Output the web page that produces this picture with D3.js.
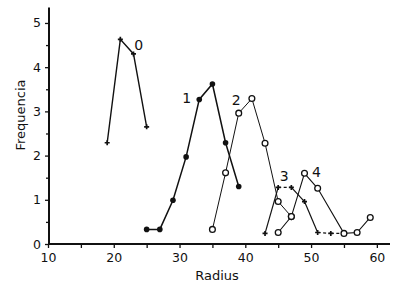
<!DOCTYPE html>
<html>
<head>
<meta charset="utf-8">
<script src="https://cdn.jsdelivr.net/npm/d3@7"></script>
<style>
  body { margin: 0; background: #fff; }
  svg { display: block; }
  text { font-family: "DejaVu Sans", sans-serif; fill: #111; }
</style>
</head>
<body>
<div id="chart"></div>
<script>
// radius classes (x) and frequencies (y) for each curve
const radius0 = [19, 21, 23, 25];
const freq0 = [2.29, 4.63, 4.30, 2.65];

const radius1 = [25, 27, 29, 31, 33, 35, 37, 39];
const freq1 = [0.33, 0.33, 0.99, 1.97, 3.27, 3.62, 2.29, 1.30];

const radius2 = [35, 37, 39, 41, 43, 45, 47];
const freq2 = [0.33, 1.61, 2.96, 3.29, 2.28, 0.96, 0.62];

const radius3 = [43, 45, 47, 49, 51, 53, 55];
const freq3 = [0.24, 1.28, 1.28, 0.96, 0.26, 0.24, 0.24];
// which segments of curve 3 are dashed
const dashed3 = [false, true, false, false, true, true];

const radius4 = [45, 47, 49, 51, 55, 57, 59];
const freq4 = [0.26, 0.62, 1.60, 1.26, 0.24, 0.26, 0.60];

const curveNames = ["0", "1", "2", "3", "4"];
const labelX = [23.8, 31.1, 38.6, 45.9, 50.8];
const labelY = [4.5, 3.3, 3.25, 1.54, 1.64];

const xTicks = [10, 15, 20, 25, 30, 35, 40, 45, 50, 55, 60];
const yTicks = [0, 1, 2, 3, 4, 5];
const yMinorTicks = [0.5, 1.5, 2.5, 3.5, 4.5];

const width = 400, height = 292;

const x = d3.scaleLinear().domain([10, 62]).range([48, 390]);
const y = d3.scaleLinear().domain([0, 5.35]).range([244, 7.5]);

const svg = d3.select("#chart").append("svg")
  .attr("width", width)
  .attr("height", height);

const zip = (xs, ys) => xs.map((v, i) => [v, ys[i]]);
const line = d3.line().x(d => x(d[0])).y(d => y(d[1]));

// axes
const xAxis = svg.append("g")
  .attr("transform", `translate(0, ${y(0)})`)
  .call(d3.axisBottom(x).tickValues(xTicks).tickSize(4).tickPadding(5)
    .tickFormat(d => d % 10 === 0 ? d : ""));
xAxis.select(".domain").attr("stroke", "#111").attr("stroke-width", 2)
  .attr("d", `M${x(10)},0H${x(62)}`);
xAxis.selectAll(".tick line").attr("stroke", "#111").attr("stroke-width", 1.3);
xAxis.selectAll("text").attr("font-size", 12.5).attr("fill", "#111");

const yAxis = svg.append("g")
  .attr("transform", `translate(${x(10) + 1}, 0)`)
  .call(d3.axisLeft(y).tickValues(yTicks).tickSize(4).tickPadding(4).tickFormat(d3.format("d")));
yAxis.select(".domain").attr("stroke", "#111").attr("stroke-width", 2)
  .attr("d", `M0,${y(0) + 1}V${y(5.35)}`);
yAxis.selectAll(".tick line").attr("stroke", "#111").attr("stroke-width", 1.3);
yAxis.selectAll("text").attr("font-size", 12.5).attr("fill", "#111");

const yMinor = svg.append("g")
  .attr("transform", `translate(${x(10) + 1}, 0)`)
  .call(d3.axisLeft(y).tickValues(yMinorTicks).tickSize(3).tickFormat(""));
yMinor.select(".domain").remove();
yMinor.selectAll(".tick line").attr("stroke", "#111").attr("stroke-width", 1.3);

svg.append("text")
  .attr("x", 217).attr("y", 280)
  .attr("text-anchor", "middle")
  .attr("font-size", 13)
  .text("Radius");

svg.append("text")
  .attr("transform", `translate(25, 115) rotate(-90)`)
  .attr("text-anchor", "middle")
  .attr("font-size", 13)
  .text("Frequencia");

const plot = svg.append("g");

// curve 0
const pts0 = zip(radius0, freq0);
plot.append("path").attr("d", line(pts0))
  .attr("fill", "none").attr("stroke", "#111").attr("stroke-width", 1.4);

// curve 1
const pts1 = zip(radius1, freq1);
plot.append("path").attr("d", line(pts1))
  .attr("fill", "none").attr("stroke", "#111").attr("stroke-width", 1.5);

// curve 2
const pts2 = zip(radius2, freq2);
plot.append("path").attr("d", line(pts2))
  .attr("fill", "none").attr("stroke", "#111").attr("stroke-width", 1);

// curve 3, segment by segment
const pts3 = zip(radius3, freq3);
dashed3.forEach((dash, i) => {
  plot.append("path").attr("d", line([pts3[i], pts3[i + 1]]))
    .attr("fill", "none").attr("stroke", "#111").attr("stroke-width", 1.2)
    .attr("stroke-dasharray", dash ? "3,2.5" : null);
});

// curve 4
const pts4 = zip(radius4, freq4);
plot.append("path").attr("d", line(pts4))
  .attr("fill", "none").attr("stroke", "#111").attr("stroke-width", 1.1);

// markers
const small = d3.symbol().type(d3.symbolCross).size(14);
[pts0, pts3].forEach(pts => {
  plot.selectAll(null).data(pts).enter().append("path")
    .attr("d", small)
    .attr("transform", d => `translate(${x(d[0])}, ${y(d[1])})`)
    .attr("fill", "#111");
});

plot.selectAll(null).data(pts1).enter().append("circle")
  .attr("cx", d => x(d[0])).attr("cy", d => y(d[1]))
  .attr("r", 2.8).attr("fill", "#111");

[pts2, pts4].forEach(pts => {
  plot.selectAll(null).data(pts).enter().append("circle")
    .attr("cx", d => x(d[0])).attr("cy", d => y(d[1]))
    .attr("r", 2.9).attr("fill", "#fff")
    .attr("stroke", "#111").attr("stroke-width", 1.3);
});

// curve numbers
plot.selectAll(null).data(curveNames).enter().append("text")
  .attr("x", (d, i) => x(labelX[i]))
  .attr("y", (d, i) => y(labelY[i]))
  .attr("dy", "0.36em")
  .attr("text-anchor", "middle")
  .attr("font-size", 14)
  .text(d => d);
</script>
</body>
</html>
